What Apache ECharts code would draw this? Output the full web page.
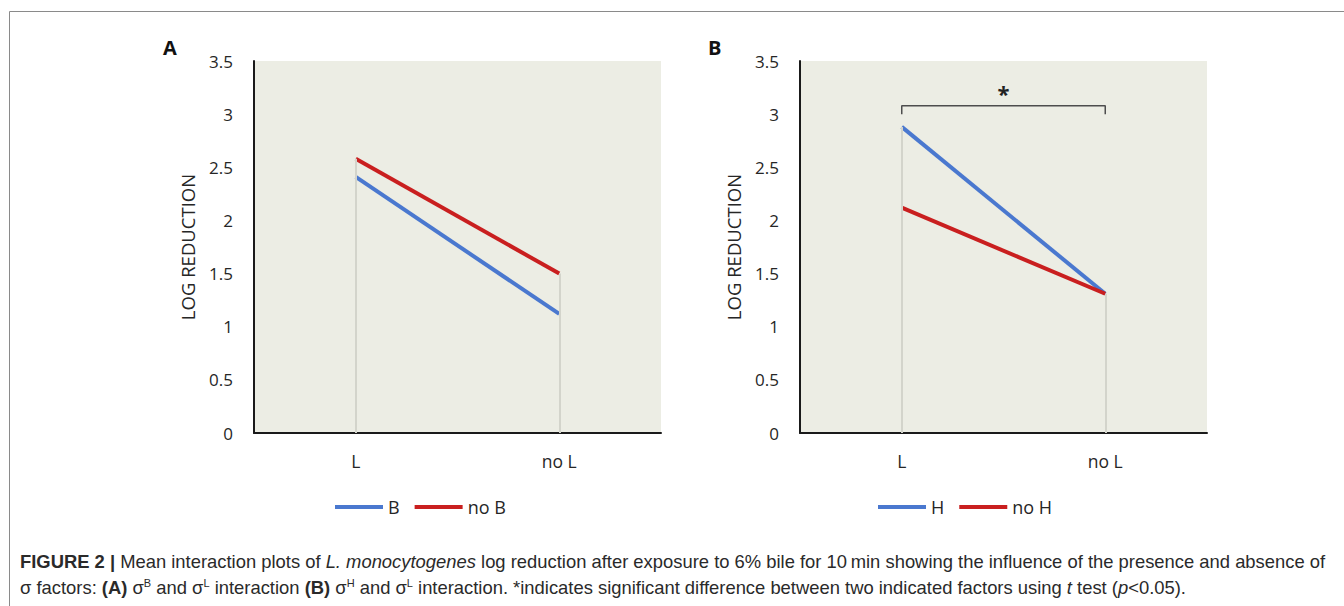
<!DOCTYPE html>
<html lang="en">
<head>
  <meta charset="UTF-8">
  <title>Log reduction interaction plots</title>
  <script src="https://cdn.jsdelivr.net/npm/echarts@6/dist/echarts.min.js"></script>
  <style>
    html, body { margin: 0; padding: 0; background: #fff; }
  </style>
</head>
<body>
<div id="main" style="width: 1344px;height:606px;"></div>
<script type="text/javascript">
  // categories on the x axis (same for both panels)
  const categories = ['L', 'no L'];
  // panel A: sigma B presence / absence
  const seriesA_B = [2.41, 1.12];
  const seriesA_noB = [2.58, 1.50];
  // panel B: sigma H presence / absence
  const seriesB_H = [2.88, 1.31];
  const seriesB_noH = [2.12, 1.31];
  // y axis ticks
  const yMin = 0, yMax = 3.5, yStep = 0.5;
  // significance bracket in panel B
  const bracketTop = 3.08;
  const bracketFoot = 3.0;

  const BLUE = '#4a78cf';
  const RED = '#c91f1f';
  const FONT = '"Open Sans", sans-serif';
  const CAPFONT = '"Liberation Sans Narrow", "Liberation Sans", sans-serif';

  var myChart = echarts.init(document.getElementById('main'), null, { renderer: 'svg' });

  function topOf(a, b) {
    return categories.map(function (c, i) { return Math.max(a[i], b[i]); });
  }

  // vertical drop lines from the highest point down to the axis
  function dropLines(a, b, idx) {
    const tops = topOf(a, b);
    return {
      name: 'drop' + idx,
      type: 'line',
      xAxisIndex: idx,
      yAxisIndex: idx,
      data: [],
      z: 1,
      silent: true,
      markLine: {
        silent: true,
        symbol: 'none',
        label: { show: false },
        lineStyle: { color: '#d3d4cb', width: 2, type: 'solid' },
        data: categories.map(function (c, i) {
          return [{ coord: [c, tops[i]] }, { coord: [c, 0] }];
        })
      }
    };
  }

  function lineSeries(name, data, color, idx) {
    return {
      name: name,
      type: 'line',
      xAxisIndex: idx,
      yAxisIndex: idx,
      data: data,
      symbol: 'none',
      z: 3,
      lineStyle: { color: color, width: 4 },
      itemStyle: { color: color }
    };
  }

  function xAxis(idx) {
    return {
      type: 'category',
      gridIndex: idx,
      data: categories,
      boundaryGap: true,
      axisLine: { lineStyle: { color: '#1a1a1a', width: 2 } },
      axisTick: { show: false },
      axisLabel: { color: '#262626', fontSize: 17.5, fontFamily: FONT, margin: 19 }
    };
  }

  function yAxis(idx) {
    return {
      type: 'value',
      gridIndex: idx,
      min: yMin,
      max: yMax,
      interval: yStep,
      name: 'LOG REDUCTION',
      nameLocation: 'middle',
      nameRotate: 90,
      nameGap: 57,
      nameTextStyle: { color: '#262626', fontSize: 18.5, fontFamily: FONT },
      axisLine: { show: true, lineStyle: { color: '#1a1a1a', width: 2 } },
      axisTick: { show: false },
      splitLine: { show: false },
      axisLabel: { color: '#262626', fontSize: 17, fontFamily: FONT, margin: 21 }
    };
  }

  function legend(names, left) {
    return {
      data: names,
      left: left,
      top: 498,
      padding: 0,
      icon: 'rect',
      itemWidth: 48,
      itemHeight: 4,
      itemGap: 15,
      textStyle: { color: '#262626', fontSize: 18, fontFamily: FONT, padding: [0, 0, 0, 0] },
      selectedMode: false
    };
  }

  const bracketSeries = {
    name: 'bracket',
    type: 'line',
    xAxisIndex: 1,
    yAxisIndex: 1,
    symbol: 'none',
    silent: true,
    z: 2,
    lineStyle: { color: '#4d4d4d', width: 1.5 },
    data: [
      [categories[0], bracketFoot],
      [categories[0], bracketTop],
      [categories[1], bracketTop],
      [categories[1], bracketFoot]
    ]
  };

  const caption1 = '{b|FIGURE 2 |} Mean interaction plots of {i|L. monocytogenes} log reduction after exposure to 6% bile for 10\u2009min showing the influence of the presence and absence of';
  const caption2 = '\u03c3 factors: {b|(A)} \u03c3{s|B} and \u03c3{s|L} interaction {b|(B)} \u03c3{s|H} and \u03c3{s|L} interaction. *indicates significant difference between two indicated factors using {i|t} test ({i|p}<0.05).';
  const capRich = {
    b: { fontWeight: 'bold', fontSize: 18.4, fontFamily: CAPFONT, fill: '#2a2a2a', lineHeight: 21 },
    i: { fontStyle: 'italic', fontSize: 18.4, fontFamily: CAPFONT, fill: '#2a2a2a', lineHeight: 21 },
    s: { fontSize: 11, fontFamily: CAPFONT, fill: '#2a2a2a', lineHeight: 9, verticalAlign: 'top' }
  };

  function graphics(extra) {
    return [
      // figure frame (left and top edges)
      { type: 'polyline', silent: true, shape: { points: [[9.5, 620], [9.5, 11.5], [1344, 11.5]] },
        style: { stroke: '#8a8a8a', lineWidth: 1, fill: null } },
      { type: 'text', left: 163, top: 37, silent: true,
        style: { text: 'A', font: 'bold 20px "Open Sans", sans-serif', fill: '#111' } },
      { type: 'text', left: 708, top: 37, silent: true,
        style: { text: 'B', font: 'bold 20px "Open Sans", sans-serif', fill: '#111' } },
      { type: 'text', left: 20, top: 551, silent: true,
        style: { text: caption1, rich: capRich, fontSize: 18.4, lineHeight: 21,
          fontFamily: CAPFONT, fill: '#2a2a2a' } },
      { type: 'text', left: 20, top: 577, silent: true,
        style: { text: caption2, rich: capRich, fontSize: 18.4, lineHeight: 21,
          fontFamily: CAPFONT, fill: '#2a2a2a' } }
    ].concat(extra || []);
  }

  myChart.setOption({
    animation: false,
    grid: [
      { left: 254, top: 61, width: 407, height: 372, show: true, backgroundColor: '#ecede4', borderWidth: 0 },
      { left: 800, top: 61, width: 407, height: 372, show: true, backgroundColor: '#ecede4', borderWidth: 0 }
    ],
    xAxis: [xAxis(0), xAxis(1)],
    yAxis: [yAxis(0), yAxis(1)],
    legend: [legend(['B', 'no B'], 335), legend(['H', 'no H'], 878)],
    series: [
      dropLines(seriesA_B, seriesA_noB, 0),
      lineSeries('B', seriesA_B, BLUE, 0),
      lineSeries('no B', seriesA_noB, RED, 0),
      dropLines(seriesB_H, seriesB_noH, 1),
      lineSeries('H', seriesB_H, BLUE, 1),
      lineSeries('no H', seriesB_noH, RED, 1),
      bracketSeries
    ],
    graphic: graphics()
  });

  // asterisk centred above the bracket
  const pL = myChart.convertToPixel({ gridIndex: 1 }, [categories[0], bracketTop]);
  const pN = myChart.convertToPixel({ gridIndex: 1 }, [categories[1], bracketTop]);
  myChart.setOption({
    graphic: graphics([
      { type: 'text', x: (pL[0] + pN[0]) / 2, y: pL[1] - 2, silent: true,
        style: { text: '*', font: 'bold 22px "Open Sans", sans-serif', fill: '#222',
          textAlign: 'center', textVerticalAlign: 'bottom' } }
    ])
  }, { replaceMerge: ['graphic'] });
</script>
</body>
</html>
